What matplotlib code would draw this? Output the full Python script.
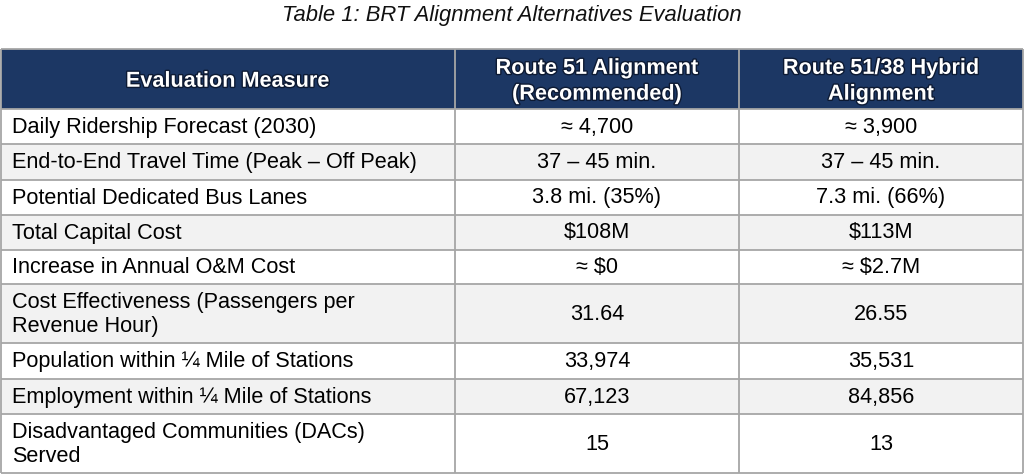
import matplotlib.pyplot as plt
import matplotlib.patheffects as pe
from matplotlib.patches import Rectangle

plt.rcParams['font.family'] = ['Liberation Sans', 'DejaVu Sans']

title = "Table 1: BRT Alignment Alternatives Evaluation"

headers = ["Evaluation Measure",
           "Route 51 Alignment\n(Recommended)",
           "Route 51/38 Hybrid\nAlignment"]

measures = ["Daily Ridership Forecast (2030)",
            "End-to-End Travel Time (Peak \u2013 Off Peak)",
            "Potential Dedicated Bus Lanes",
            "Total Capital Cost",
            "Increase in Annual O&M Cost",
            "Cost Effectiveness (Passengers per\nRevenue Hour)",
            "Population within \u00bc Mile of Stations",
            "Employment within \u00bc Mile of Stations",
            "Disadvantaged Communities (DACs)\nServed"]

route51 = ["\u2248 4,700", "37 \u2013 45 min.", "3.8 mi. (35%)", "$108M",
           "\u2248 $0", "31.64", "33,974", "67,123", "15"]

hybrid = ["\u2248 3,900", "37 \u2013 45 min.", "7.3 mi. (66%)", "$113M",
          "\u2248 $2.7M", "26.55", "35,531", "84,856", "13"]

# layout in pixels
col_edges = [0.5, 455, 739, 1023]
header_top, header_bot = 49, 108.5
row_edges = [108.5, 144, 179.5, 214.5, 249.5, 284, 343, 379, 414, 473]

navy = "#1c3764"
shade = "#f2f2f2"
line_col = "#a6a6a6"

fig = plt.figure(figsize=(10.24, 4.75), dpi=100)
ax = fig.add_axes([0, 0, 1, 1])
ax.set_xlim(0, 1024)
ax.set_ylim(475, 0)
ax.axis("off")

ax.text(512, 16, title, ha="center", va="center", fontsize=15.8,
        style="italic", color="#111111")

# header
ax.add_patch(Rectangle((col_edges[0], header_top), col_edges[-1] - col_edges[0],
                       header_bot - header_top, facecolor=navy, edgecolor="none"))
for i, h in enumerate(headers):
    cx = (col_edges[i] + col_edges[i + 1]) / 2
    ax.text(cx, (header_top + header_bot) / 2 + 2.5, h, ha="center", va="center",
            fontsize=15.6, fontweight="bold", color="white", linespacing=1.3,
            path_effects=[pe.withStroke(linewidth=2.0, foreground="#0d1a33")])

# body rows
for r in range(len(measures)):
    y0, y1 = row_edges[r], row_edges[r + 1]
    if r % 2 == 1:
        ax.add_patch(Rectangle((col_edges[0], y0), col_edges[-1] - col_edges[0],
                               y1 - y0, facecolor=shade, edgecolor="none"))
    cy = (y0 + y1) / 2 + 1
    ax.text(12, cy, measures[r], ha="left", va="center", fontsize=15.6,
            color="black", linespacing=1.18)
    for c, vals in enumerate([route51, hybrid], start=1):
        cx = (col_edges[c] + col_edges[c + 1]) / 2
        ax.text(cx, cy, vals[r], ha="center", va="center", fontsize=15.6,
                color="black")

# grid lines
for y in [header_top] + row_edges:
    ax.plot([col_edges[0], col_edges[-1]], [y, y], color=line_col, lw=1.3,
            solid_capstyle="butt")
for x in col_edges:
    ax.plot([x, x], [header_top, row_edges[-1]], color=line_col, lw=1.3,
            solid_capstyle="butt")

fig.savefig("out.png", dpi=100)
